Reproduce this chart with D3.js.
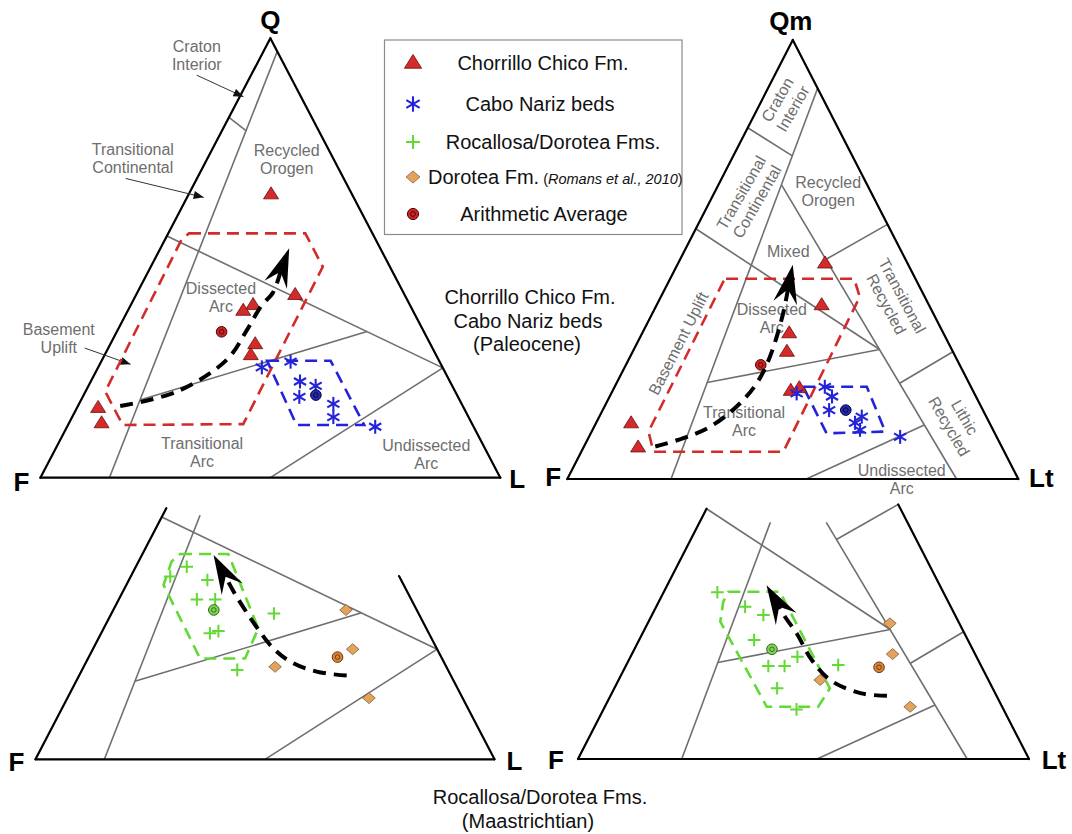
<!DOCTYPE html>
<html>
<head>
<meta charset="utf-8">
<title>QFL / QmFLt provenance diagrams</title>
<script src="https://cdn.jsdelivr.net/npm/d3@7/dist/d3.min.js"></script>
<style>
  body { margin: 0; background: #fff; }
  #chart svg { display: block; font-family: "Liberation Sans", Arial, Helvetica, sans-serif; }
</style>
</head>
<body>
<div id="chart"></div>
<script>
// all ternary values are [Q, L] pairs, F = 1 - Q - L

// Chorrillo Chico Fm. / Cabo Nariz beds (Paleocene)
const chorrilloQFL      = [[0.645,0.179],[0.416,0.346],[0.393,0.266],[0.380,0.251],[0.304,0.315],[0.279,0.318],[0.159,0.046],[0.124,0.071]];
const chorrilloQFLAvg   = [[0.332,0.228]];
const caboQFL           = [[0.251,0.356],[0.264,0.412],[0.219,0.455],[0.209,0.494],[0.184,0.471],[0.168,0.553],[0.138,0.568],[0.116,0.670]];
const caboQFLAvg        = [[0.188,0.505]];
const chorrilloQmFLt    = [[0.491,0.326],[0.396,0.366],[0.332,0.326],[0.290,0.342],[0.201,0.395],[0.207,0.411],[0.127,0.078],[0.072,0.121]];
const chorrilloQmFLtAvg = [[0.260,0.299]];
const caboQmFLt         = [[0.195,0.411],[0.210,0.466],[0.188,0.493],[0.157,0.502],[0.142,0.582],[0.128,0.574],[0.112,0.593],[0.096,0.690]];
const caboQmFLtAvg      = [[0.157,0.539]];

// Rocallosa/Dorotea Fms. (Maastrichtian)
const rocallosaQFL      = [[0.437,0.111],[0.415,0.086],[0.407,0.171],[0.363,0.170],[0.363,0.210],[0.331,0.354],[0.286,0.237],[0.291,0.253],[0.203,0.338]];
const rocallosaQFLAvg   = [[0.339,0.219]];
const doroteaQFL        = [[0.339,0.507],[0.250,0.566],[0.210,0.417],[0.139,0.657]];
const doroteaQFLAvg     = [[0.232,0.542]];
const rocallosaQmFLt    = [[0.380,0.119],[0.347,0.197],[0.328,0.247],[0.271,0.255],[0.233,0.370],[0.212,0.316],[0.212,0.352],[0.214,0.470],[0.161,0.361],[0.113,0.428]];
const rocallosaQmFLtAvg = [[0.250,0.305]];
const doroteaQmFLt      = [[0.309,0.537],[0.239,0.578],[0.180,0.447],[0.119,0.677]];
const doroteaQmFLtAvg   = [[0.209,0.563]];

// dashed envelopes
const redHullQFL      = [[0.556,0.045],[0.556,0.298],[0.480,0.374],[0.122,0.380],[0.120,0.119],[0.196,0.043],[0.541,0.036]];
const blueHullQFL     = [[0.266,0.360],[0.266,0.498],[0.120,0.644],[0.120,0.497]];
const redHullQmFLt    = [[0.456,0.124],[0.456,0.408],[0.415,0.441],[0.062,0.448],[0.062,0.160],[0.108,0.126],[0.449,0.121]];
const blueHullQmFLt   = [[0.210,0.418],[0.210,0.559],[0.108,0.651],[0.104,0.523]];
const greenHullQFL    = [[0.466,0.082],[0.466,0.187],[0.297,0.337],[0.229,0.342],[0.229,0.244],[0.396,0.081],[0.449,0.072]];
const greenHullQmFLt  = [[0.381,0.143],[0.381,0.257],[0.161,0.478],[0.119,0.473],[0.119,0.359],[0.313,0.159],[0.358,0.143]];

// trend arrows: path points, then tip
const trendQFL        = [[0.163,0.092],[0.196,0.199],[0.268,0.271],[0.336,0.281],[0.393,0.285],[0.420,0.295]];
const trendQFLTip     = [0.522,0.280];
const trendQmFLt      = [[0.074,0.158],[0.093,0.211],[0.119,0.257],[0.165,0.293],[0.218,0.311],[0.279,0.310],[0.377,0.290]];
const trendQmFLtTip   = [0.488,0.256];
const trendQFL2       = [[0.190,0.583],[0.199,0.513],[0.222,0.444],[0.252,0.392],[0.294,0.339],[0.339,0.287],[0.381,0.241]];
const trendQFL2Tip    = [0.464,0.156];
const trendQmFLt2     = [[0.144,0.613],[0.150,0.551],[0.180,0.469],[0.226,0.405],[0.286,0.342],[0.324,0.297]];
const trendQmFLt2Tip  = [0.396,0.220];

// field boundaries (Dickinson)
const sidesFull = [[[1,0],[0,0]],[[0,0],[0,1]],[[0,1],[1,0]]];
const qflFields = [
  [[0.97,0.03],[0,0.15]],
  [[0.82,0],[0.79,0.052]],
  [[0.55,0],[0.25,0.75]],
  [[0.177,0.128],[0.3325,0.544]],
  [[0,0.5],[0.25,0.75]]
];
const qflSidesCut  = [[[0,0],[0,1]],[[0,0],[0.57,0]],[[0,1],[0.416,0.584]]];
const qflFieldsCut = [
  [[0,0.15],[0.554,0.0815]],
  [[0.55,0],[0.25,0.75]],
  [[0.177,0.128],[0.3325,0.544]],
  [[0,0.5],[0.25,0.75]]
];
const qmfltFields = [
  [[0.89,0.11],[0,0.23]],
  [[0.80,0],[0.736,0.131]],
  [[0.67,0.14],[0,0.863]],
  [[0.58,0.42],[0.50,0.323]],
  [[0.57,0],[0.295,0.545]],
  [[0.22,0.20],[0.295,0.545]],
  [[0.29,0.71],[0.218,0.628]],
  [[0.123,0.730],[0,0.53]]
];
const qmfltSidesCut  = [[[0,0],[0,1]],[[0,0],[0.57,0]],[[0,1],[0.58,0.42]]];
const qmfltFieldsCut = [
  [[0,0.23],[0.539,0.157]],
  [[0,0.863],[0.539,0.281]],
  [[0.58,0.42],[0.50,0.323]],
  [[0.57,0],[0.295,0.545]],
  [[0.22,0.20],[0.295,0.545]],
  [[0.29,0.71],[0.218,0.628]],
  [[0.123,0.730],[0,0.53]]
];

// field names
const qflLabels = [
  {text:['Craton','Interior'], at:[0.960,-0.140]},
  {text:['Transitional','Continental'], at:[0.726,-0.162]},
  {text:['Recycled','Orogen'], at:[0.725,0.173]},
  {text:['Dissected','Arc'], at:[0.411,0.187]},
  {text:['Basement','Uplift'], at:[0.316,-0.118]},
  {text:['Transitional','Arc'], at:[0.057,0.323]},
  {text:['Undissected','Arc'], at:[0.054,0.812]}
];
const qflPointers = [
  [[0.916,-0.118],[0.867,0.008]],
  [[0.681,-0.155],[0.638,0.036]],
  [[0.295,-0.051],[0.258,0.067]]
];
const qmfltLabels = [
  {text:['Craton','Interior'], at:[0.854,0.056], rotate:-60},
  {text:['Transitional','Continental'], at:[0.642,0.082], rotate:-60},
  {text:['Recycled','Orogen'], at:[0.655,0.251]},
  {text:['Mixed'], at:[0.518,0.231]},
  {text:['Dissected','Arc'], at:[0.365,0.271]},
  {text:['Basement Uplift'], at:[0.309,0.092], rotate:-63},
  {text:['Transitional','Arc'], at:[0.132,0.326]},
  {text:['Transitional','Recycled'], at:[0.408,0.521], rotate:62},
  {text:['Lithic','Recycled'], at:[0.130,0.799], rotate:60},
  {text:['Undissected','Arc'], at:[-0.001,0.742]}
];

const legendItems = [
  {type:'triangle', label:'Chorrillo Chico Fm.'},
  {type:'asterisk', label:'Cabo Nariz beds'},
  {type:'plus', label:'Rocallosa/Dorotea Fms.'},
  {type:'diamond', label:'Dorotea Fm.', cite:'Romans et al., 2010'},
  {type:'average', label:'Arithmetic Average'}
];

// ---- styles ----
const RED = '#d32a2a', BLUE = '#2323d9', GREEN = '#62d934', ORANGE = '#e3a35e';
const avgColors = {
  red:    {fill:'#c82626', stroke:'#560000'},
  blue:   {fill:'#2a2aa8', stroke:'#000040'},
  green:  {fill:'#7fd452', stroke:'#2a6a16'},
  orange: {fill:'#d9843a', stroke:'#6b3a10'}
};

const svg = d3.select('#chart').append('svg')
  .attr('width', 1072)
  .attr('height', 834);

const defs = svg.append('defs');
defs.append('marker')
  .attr('id', 'pointer')
  .attr('viewBox', '0 0 10 8')
  .attr('refX', 10).attr('refY', 4)
  .attr('markerWidth', 11).attr('markerHeight', 8)
  .attr('markerUnits', 'userSpaceOnUse')
  .attr('orient', 'auto')
  .append('path').attr('d', 'M0,0L10,4L0,8Z').attr('fill', '#111');

// ternary -> pixel through two linear scales
function makeProjection(fx, baseY, w, h) {
  const x = d3.scaleLinear().domain([0, 1]).range([fx, fx + w]);
  const y = d3.scaleLinear().domain([0, 1]).range([baseY, baseY - h]);
  return d => [x(d[1] + d[0] / 2), y(d[0])];
}

function drawSymbol(sel, type, k) {
  k = k || 1;
  if (type === 'triangle') {
    const w = 15 * k, h = 12 * k;
    sel.append('path')
      .attr('d', `M0,${-h * 0.62}L${w / 2},${h * 0.38}L${-w / 2},${h * 0.38}Z`)
      .attr('fill', RED).attr('stroke', '#6a0d0d').attr('stroke-width', 0.8);
  } else if (type === 'asterisk') {
    const r = 7 * k;
    [90, 30, -30].forEach(a => {
      const c = Math.cos(a * Math.PI / 180) * r, s = Math.sin(a * Math.PI / 180) * r;
      sel.append('line').attr('x1', -c).attr('y1', -s).attr('x2', c).attr('y2', s)
        .attr('stroke', BLUE).attr('stroke-width', 2.1);
    });
  } else if (type === 'plus') {
    const r = 6.3 * k;
    sel.append('path').attr('d', `M${-r},0H${r}M0,${-r}V${r}`)
      .attr('stroke', GREEN).attr('stroke-width', 2).attr('fill', 'none');
  } else if (type === 'diamond') {
    const w = 6.3 * k, h = 5.5 * k;
    sel.append('path').attr('d', `M0,${-h}L${w},0L0,${h}L${-w},0Z`)
      .attr('fill', ORANGE).attr('stroke', '#7e6036').attr('stroke-width', 0.8);
  }
}

function drawAverage(sel, c, k) {
  k = k || 1;
  sel.append('circle').attr('r', 5.3 * k).attr('fill', c.fill).attr('stroke', c.stroke).attr('stroke-width', 1);
  sel.append('circle').attr('r', 2.3 * k).attr('fill', 'none').attr('stroke', c.stroke).attr('stroke-width', 0.9);
}

function drawTrend(g, proj, pts, tip) {
  const P = pts.map(proj), T = proj(tip);
  const last = P[P.length - 1];
  let ux = T[0] - last[0], uy = T[1] - last[1];
  const len = Math.hypot(ux, uy); ux /= len; uy /= len;
  const nx = -uy, ny = ux;
  const notch = [T[0] - ux * 25, T[1] - uy * 25];
  g.append('path')
    .attr('d', d3.line().curve(d3.curveCatmullRom.alpha(0.5))([...P, notch]))
    .attr('fill', 'none').attr('stroke', '#000').attr('stroke-width', 4)
    .attr('stroke-dasharray', '13,8');
  const b1 = [T[0] - ux * 39 + nx * 12, T[1] - uy * 39 + ny * 12];
  const b2 = [T[0] - ux * 39 - nx * 12, T[1] - uy * 39 - ny * 12];
  g.append('path').attr('d', `M${T}L${b1}L${notch}L${b2}Z`).attr('fill', '#000');
}

function drawDiagram(d) {
  const proj = d.proj;
  const g = svg.append('g');

  g.append('g').selectAll('line').data(d.fields).join('line')
    .attr('x1', s => proj(s[0])[0]).attr('y1', s => proj(s[0])[1])
    .attr('x2', s => proj(s[1])[0]).attr('y2', s => proj(s[1])[1])
    .attr('stroke', '#6f6f6f').attr('stroke-width', 1.6);

  g.append('g').selectAll('line').data(d.sides).join('line')
    .attr('x1', s => proj(s[0])[0]).attr('y1', s => proj(s[0])[1])
    .attr('x2', s => proj(s[1])[0]).attr('y2', s => proj(s[1])[1])
    .attr('stroke', '#000').attr('stroke-width', 2.2).attr('stroke-linecap', 'round');

  if (d.labels) {
    g.append('g').attr('fill', '#6e6e6e').attr('font-size', 16).attr('text-anchor', 'middle')
      .selectAll('text').data(d.labels).join('text')
      .attr('transform', l => {
        const [x, y] = proj(l.at);
        return `translate(${x},${y}) rotate(${l.rotate || 0})`;
      })
      .each(function (l) {
        const t = d3.select(this);
        l.text.forEach((s, i) => {
          t.append('tspan').attr('x', 0)
            .attr('y', (i - (l.text.length - 1) / 2) * 18)
            .attr('dy', '0.35em').text(s);
        });
      });
  }

  if (d.pointers) {
    g.append('g').selectAll('line').data(d.pointers).join('line')
      .attr('x1', s => proj(s[0])[0]).attr('y1', s => proj(s[0])[1])
      .attr('x2', s => proj(s[1])[0]).attr('y2', s => proj(s[1])[1])
      .attr('stroke', '#333').attr('stroke-width', 1)
      .attr('marker-end', 'url(#pointer)');
  }

  d.hulls.forEach(h => {
    g.append('path')
      .attr('d', d3.line().curve(d3.curveLinearClosed)(h.pts.map(proj)))
      .attr('fill', 'none').attr('stroke', h.color).attr('stroke-width', 2.6)
      .attr('stroke-dasharray', '12,7');
  });

  d.series.forEach(s => {
    g.append('g').selectAll('g').data(s.pts).join('g')
      .attr('transform', p => `translate(${proj(p)})`)
      .each(function () { drawSymbol(d3.select(this), s.type); });
  });

  d.averages.forEach(a => {
    g.append('g').selectAll('g').data(a.pts).join('g')
      .attr('transform', p => `translate(${proj(p)})`)
      .each(function () { drawAverage(d3.select(this), a.color); });
  });

  drawTrend(g, proj, d.trend, d.tip);

  g.append('g').attr('font-size', 26).attr('font-weight', 'bold').attr('text-anchor', 'middle')
    .selectAll('text').data(d.vertices).join('text')
    .attr('x', v => proj(v.at)[0] + v.dx)
    .attr('y', v => proj(v.at)[1] + v.dy)
    .attr('dy', '0.36em')
    .text(v => v.text);
}

// top left: QFL Paleocene
drawDiagram({
  proj: makeProjection(40.4, 477.7, 459.9, 439.4),
  sides: sidesFull, fields: qflFields, labels: qflLabels, pointers: qflPointers,
  hulls: [{pts: redHullQFL, color: RED}, {pts: blueHullQFL, color: BLUE}],
  series: [{pts: chorrilloQFL, type: 'triangle'}, {pts: caboQFL, type: 'asterisk'}],
  averages: [{pts: chorrilloQFLAvg, color: avgColors.red}, {pts: caboQFLAvg, color: avgColors.blue}],
  trend: trendQFL, tip: trendQFLTip,
  vertices: [{text:'Q', at:[1,0], dx:0, dy:-19}, {text:'F', at:[0,0], dx:-19, dy:4}, {text:'L', at:[0,1], dx:17, dy:1}]
});

// top right: QmFLt Paleocene
drawDiagram({
  proj: makeProjection(567.3, 479, 451, 439),
  sides: sidesFull, fields: qmfltFields, labels: qmfltLabels,
  hulls: [{pts: redHullQmFLt, color: RED}, {pts: blueHullQmFLt, color: BLUE}],
  series: [{pts: chorrilloQmFLt, type: 'triangle'}, {pts: caboQmFLt, type: 'asterisk'}],
  averages: [{pts: chorrilloQmFLtAvg, color: avgColors.red}, {pts: caboQmFLtAvg, color: avgColors.blue}],
  trend: trendQmFLt, tip: trendQmFLtTip,
  vertices: [{text:'Qm', at:[1,0], dx:-2, dy:-19}, {text:'F', at:[0,0], dx:-14, dy:-2}, {text:'Lt', at:[0,1], dx:23, dy:-1}]
});

// bottom left: QFL Maastrichtian
drawDiagram({
  proj: makeProjection(35.5, 759.3, 459, 440.5),
  sides: qflSidesCut, fields: qflFieldsCut,
  hulls: [{pts: greenHullQFL, color: GREEN}],
  series: [{pts: rocallosaQFL, type: 'plus'}, {pts: doroteaQFL, type: 'diamond'}],
  averages: [{pts: rocallosaQFLAvg, color: avgColors.green}, {pts: doroteaQFLAvg, color: avgColors.orange}],
  trend: trendQFL2, tip: trendQFL2Tip,
  vertices: [{text:'F', at:[0,0], dx:-19, dy:2}, {text:'L', at:[0,1], dx:20, dy:1}]
});

// bottom right: QmFLt Maastrichtian
drawDiagram({
  proj: makeProjection(578, 759, 451, 439),
  sides: qmfltSidesCut, fields: qmfltFieldsCut,
  hulls: [{pts: greenHullQmFLt, color: GREEN}],
  series: [{pts: rocallosaQmFLt, type: 'plus'}, {pts: doroteaQmFLt, type: 'diamond'}],
  averages: [{pts: rocallosaQmFLtAvg, color: avgColors.green}, {pts: doroteaQmFLtAvg, color: avgColors.orange}],
  trend: trendQmFLt2, tip: trendQmFLt2Tip,
  vertices: [{text:'F', at:[0,0], dx:-22, dy:1}, {text:'Lt', at:[0,1], dx:25, dy:1}]
});

// legend
const legendBox = {x: 384.5, y: 40, w: 297.5, h: 194.5};
const legendRows = [63, 104, 142, 177, 214];
const legendTextX = [543, 540, 553, 428, 544];
const legend = svg.append('g');
legend.append('rect')
  .attr('x', legendBox.x).attr('y', legendBox.y)
  .attr('width', legendBox.w).attr('height', legendBox.h)
  .attr('fill', '#fff').attr('stroke', '#8a8a8a').attr('stroke-width', 1.2);
legendItems.forEach((it, i) => {
  const sym = legend.append('g').attr('transform', `translate(413,${legendRows[i]})`);
  if (it.type === 'average') drawAverage(sym, avgColors.red, 1.05);
  else drawSymbol(sym, it.type, it.type === 'triangle' ? 1.15 : 1.1);
  const t = legend.append('text')
    .attr('x', legendTextX[i]).attr('y', legendRows[i]).attr('dy', '0.35em')
    .attr('font-size', 20).attr('fill', '#111')
    .attr('text-anchor', it.cite ? 'start' : 'middle')
    .text(it.label);
  if (it.cite) {
    t.append('tspan').attr('font-size', 14.5).attr('dx', 4).text('(');
    t.append('tspan').attr('font-size', 14.5).attr('font-style', 'italic').text(it.cite);
    t.append('tspan').attr('font-size', 14.5).text(')');
  }
});

// captions
const captions = [
  {lines: ['Chorrillo Chico Fm.', 'Cabo Nariz beds', '(Paleocene)'], x: [530, 528, 527], y: 297},
  {lines: ['Rocallosa/Dorotea Fms.', '(Maastrichtian)'], x: [540, 528], y: 797}
];
captions.forEach(c => {
  c.lines.forEach((s, i) => {
    svg.append('text')
      .attr('x', c.x[i]).attr('y', c.y + i * 23.5).attr('dy', '0.35em')
      .attr('text-anchor', 'middle').attr('font-size', 20).attr('fill', '#111')
      .text(s);
  });
});
</script>
</body>
</html>
